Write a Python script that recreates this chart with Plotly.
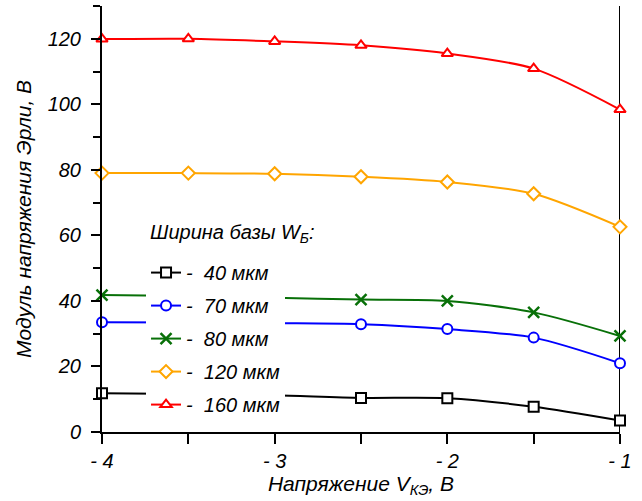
import plotly.graph_objects as go

x_vals = [-4, -3.5, -3, -2.5, -2, -1.5, -1]
w40 = [11.8, 11.6, 11.2, 10.4, 10.3, 7.7, 3.5]
w70 = [33.5, 33.4, 33.2, 32.9, 31.4, 28.8, 21.0]
w80 = [41.8, 41.5, 41.0, 40.4, 40.0, 36.5, 29.3]
w120 = [79.0, 79.0, 78.8, 77.9, 76.3, 72.7, 62.6]
w160 = [119.9, 120.0, 119.2, 118.0, 115.5, 110.9, 98.4]

names = ["-  40 мкм", "-  70 мкм", "-  80 мкм", "-  120 мкм", "-  160 мкм"]
legend_title = "Ширина базы W<sub>Б</sub>:"
series = [w40, w70, w80, w120, w160]
colors = ["#000000", "#0000FF", "#087008", "#FFA500", "#FF0000"]
symbols = ["square", "circle", "x-thin", "diamond", "triangle-up"]

x_tickvals = [-4, -3, -2, -1]
x_ticktext = ["- 4", "- 3", "- 2", "- 1"]
y_tickvals = [0, 20, 40, 60, 80, 100, 120]

FONT = "Liberation Sans"

fig = go.Figure()
for i, (nm, ys, c, s) in enumerate(zip(names, series, colors, symbols)):
    if s == "x-thin":
        marker = dict(symbol=s, size=11, color=c, line=dict(color=c, width=2.5))
    else:
        marker = dict(symbol=s, size=10, color="white", line=dict(color=c, width=2))
    fig.add_trace(go.Scatter(
        x=x_vals, y=ys, name=nm, mode="lines+markers",
        line=dict(color=c, width=2, shape="spline", smoothing=0.8),
        marker=marker, cliponaxis=False, legendgroup=f"g{i}",
    ))

fig.add_shape(type="line", xref="x", yref="paper", x0=-1, x1=-1, y0=0, y1=1,
              line=dict(color="black", width=2), layer="below")

fig.add_annotation(
    text=legend_title, xref="paper", yref="paper", x=0.089, y=0.465,
    xanchor="left", yanchor="middle", showarrow=False, bgcolor="white",
    font=dict(family=FONT, size=20, style="italic", color="black"),
)

fig.update_layout(
    width=642, height=501,
    margin=dict(l=102, r=22, t=6, b=69),
    paper_bgcolor="white", plot_bgcolor="white",
    font=dict(family=FONT, color="black"),
    showlegend=True,
    legend=dict(
        x=0.085, y=0.42, xanchor="left", yanchor="top",
        bgcolor="white", borderwidth=0,
        font=dict(family=FONT, size=20, style="italic"),
        traceorder="grouped", tracegroupgap=4,
        itemwidth=30, entrywidth=112,
    ),
    xaxis=dict(
        range=[-4, -1], showgrid=False, zeroline=False,
        showline=True, linecolor="black", linewidth=2,
        ticks="outside", ticklen=10, tickwidth=2, tickcolor="black",
        tickvals=x_tickvals, ticktext=x_ticktext,
        tickfont=dict(family=FONT, size=20, style="italic"),
        minor=dict(tickvals=[-3.5, -2.5, -1.5], ticks="outside", ticklen=10,
                   tickwidth=2, tickcolor="black"),
        title=dict(text="Напряжение V<sub>КЭ</sub>, В", standoff=4,
                   font=dict(family=FONT, size=21, style="italic")),
    ),
    yaxis=dict(
        range=[0, 130], showgrid=False, zeroline=False,
        showline=True, linecolor="black", linewidth=2,
        ticks="outside", ticklen=9, tickwidth=2, tickcolor="black",
        tickvals=y_tickvals, ticklabelstandoff=6,
        tickfont=dict(family=FONT, size=20, style="italic"),
        minor=dict(dtick=10, ticks="outside", ticklen=7, tickwidth=2,
                   tickcolor="black"),
        title=dict(text="Модуль напряжения Эрли, В", standoff=10,
                   font=dict(family=FONT, size=21, style="italic")),
    ),
)

fig.write_html("out.html")
